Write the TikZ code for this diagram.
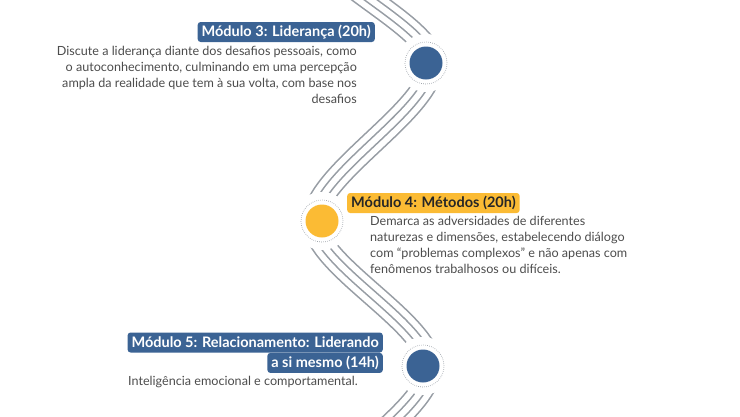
\documentclass[tikz,border=0pt]{standalone}
\usepackage{fontspec}
\setmainfont{Lato}
\usepackage{tikz}
\usepackage{xcolor}

\definecolor{modblue}{HTML}{3B6394}
\definecolor{modyellow}{HTML}{FBBB34}
\definecolor{wavegray}{HTML}{979DA4}
\definecolor{bodygray}{HTML}{4C4C4C}

\tikzset{
  modtitle/.style={rounded corners=3pt, inner xsep=4pt, inner ysep=0pt, minimum height=20pt,
    font=\bfseries\fontsize{14.5}{17}\selectfont},
  bluetitle/.style={modtitle, fill=modblue, text=white},
  yellowtitle/.style={modtitle, fill=modyellow, text=black!85},
  body/.style={inner sep=0pt, text=bodygray, font=\fontsize{12.6}{15.8}\selectfont},
  stopdot/.style={circle, fill=#1, minimum size=33pt, inner sep=0pt},
  ring/.style={wavegray, line width=0.7pt, dash pattern=on 0.6pt off 1.4pt},
}

\begin{document}
\begin{tikzpicture}[x=1pt, y=-1pt]
    \useasboundingbox (0,0) rectangle (740,416);
    \def\wavepath{(314,-60) .. controls (314,-23) and (432,26) .. (432,63)
      .. controls (432,110) and (314,174) .. (314,221)
      .. controls (314,265) and (430,323) .. (430,367)
      .. controls (430,412) and (314,472) .. (314,517)}
    \begin{scope}
      \clip (0,0) rectangle (740,416);
      \foreach \w/\c in {24.1/wavegray, 20.9/white, 9.1/wavegray, 5.9/white}
        \draw[\c, line width=\w pt] \wavepath;
    \end{scope}
    \coordinate (p3) at (426,63);
    \coordinate (p4) at (322,221);
    \coordinate (p5) at (423,366);
    \foreach \p in {p3, p4, p5} {
      \fill[white] (\p) circle (29pt);
      \draw[ring] (\p) circle (21pt);
    }
    \node[stopdot=modblue] (c3) at (p3) {};
    \node[stopdot=modyellow] (c4) at (p4) {};
    \node[stopdot=modblue] (c5) at (p5) {};

    \node[bluetitle, anchor=east] (t3) at (375,32) {Módulo 3: Liderança (20h)};
    \node[body, align=right, anchor=north east] (d3) at (357,46.5)
      {Discute a liderança diante dos desafios pessoais, como\\
       o autoconhecimento, culminando em uma percepção\\
       ampla da realidade que tem à sua volta, com base nos\\
       desafios};

    \node[yellowtitle, anchor=west] (t4) at (347,203) {Módulo 4: Métodos (20h)};
    \node[body, align=left, anchor=north west] (d4) at (370,216.5)
      {Demarca as adversidades de diferentes\\
       naturezas e dimensões, estabelecendo diálogo\\
       com “problemas complexos” e não apenas com\\
       fenômenos trabalhosos ou difíceis.};

    \node[bluetitle, anchor=east] (t5a) at (383,342.5) {Módulo 5: Relacionamento: Liderando};
    \node[bluetitle, anchor=north east] (t5b) at (t5a.south east) {a si mesmo (14h)};
    \node[body, anchor=north west] (d5) at (128,376.5) {Inteligência emocional e comportamental.};
  \end{tikzpicture}
\end{document}
